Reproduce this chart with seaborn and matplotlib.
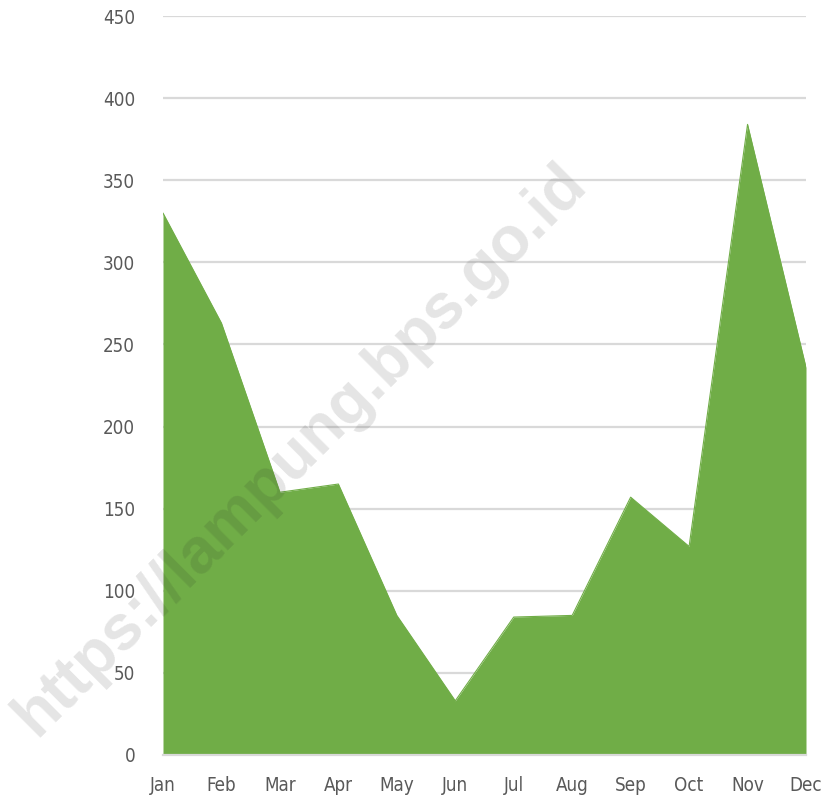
import matplotlib
matplotlib.use("Agg")
import matplotlib.pyplot as plt
import seaborn as sns
import numpy as np
import pandas as pd

# data
months = ["Jan", "Feb", "Mar", "Apr", "May", "Jun", "Jul", "Aug", "Sep", "Oct", "Nov", "Dec"]
values = [330, 263, 160, 165, 85, 33, 84, 85, 157, 127, 384, 236]
yticks = [0, 50, 100, 150, 200, 250, 300, 350, 400, 450]

df = pd.DataFrame({"month": months, "value": values})
df["pos"] = np.arange(len(months))

sns.set_theme(style="white")
plt.rcParams["font.family"] = ["DejaVu Sans"]
plt.rcParams["font.stretch"] = "condensed"

green = "#70ad47"
fig = plt.figure(figsize=(8.25, 8.01), dpi=100)
ax = fig.add_axes([163 / 825, 1 - 755 / 801, (806 - 163) / 825, (755 - 16) / 801])

ax.fill_between(df["pos"], df["value"], 0, color=green, linewidth=0, zorder=2)
sns.lineplot(data=df, x="pos", y="value", color=green, linewidth=0.8, ax=ax, zorder=3)

ax.set_xlim(0, len(months) - 1)
ax.set_ylim(0, 450)
ax.set_yticks(yticks)
ax.set_xticks(df["pos"])
ax.set_xticklabels(months)
ax.set_xlabel("")
ax.set_ylabel("")

ax.grid(axis="y", color="#d9d9d9", linewidth=1.6, zorder=0)
ax.set_axisbelow(True)
for s in ["top", "right", "left"]:
    ax.spines[s].set_visible(False)
ax.spines["bottom"].set_color("#d9d9d9")
ax.spines["bottom"].set_linewidth(1.6)
ax.spines["bottom"].set_zorder(4)

ax.tick_params(axis="x", colors="#d9d9d9", length=7, width=1.6, direction="out",
               labelcolor="#595959", labelsize=13.5, pad=8)
ax.tick_params(axis="y", length=0, labelcolor="#595959", labelsize=13.5, pad=20)

# watermark
fig.text(0.364, 0.438, "https://lampung.bps.go.id", rotation=45, fontsize=46,
         fontweight="bold", family=["Liberation Sans", "DejaVu Sans"], stretch="normal",
         color="#222222", alpha=0.12, ha="center", va="center", zorder=10)

fig.savefig("out.png", dpi=100)
